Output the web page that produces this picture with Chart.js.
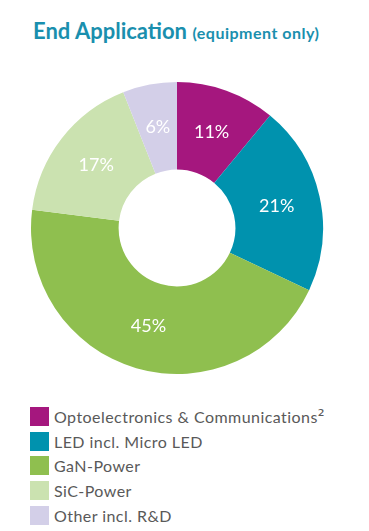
<!DOCTYPE html>
<html>
<head>
<meta charset="utf-8">
<script src="https://cdn.jsdelivr.net/npm/chart.js@4"></script>
<style>
  body { margin: 0; background: #fff; font-family: Lato, sans-serif; }
  #wrap { position: relative; width: 369px; height: 531px; }
  #title { position: absolute; left: 33px; top: 17px; color: #1a8fae; font-weight: bold; font-size: 22px; white-space: nowrap; }
  #title small { font-size: 16px; letter-spacing: 0.5px; }
  #chartBox { position: absolute; left: 27px; top: 78px; width: 300px; height: 300px; }
  #legend { position: absolute; left: 30px; top: 404px; }
  .row { display: flex; align-items: center; height: 24.7px; }
  .sw { width: 19px; height: 19px; margin-right: 5px; }
  .lbl { font-size: 16px; letter-spacing: 0.45px; color: #595959; white-space: nowrap; }
  .sup { font-family: "DejaVu Sans", sans-serif; font-size: 17px; line-height: 0; position: relative; top: -1px; }
</style>
</head>
<body>
<div id="wrap">
  <div id="title">End Application <small>(equipment only)</small></div>
  <div id="chartBox"><canvas id="pie"></canvas></div>
  <div id="legend"></div>
</div>
<script>
const categories = ['Optoelectronics & Communications²', 'LED incl. Micro LED', 'GaN-Power', 'SiC-Power', 'Other incl. R&D'];
const shares = [11, 21, 45, 17, 6];
const colors = ['#a5177e', '#0092ae', '#8fbf4f', '#cbe2b0', '#d3cfe8'];

// percentage labels inside the ring
const sliceLabels = {
  id: 'sliceLabels',
  afterDatasetsDraw(chart) {
    const ctx = chart.ctx;
    const meta = chart.getDatasetMeta(0);
    ctx.save();
    ctx.fillStyle = '#fff';
    ctx.font = '18px Lato, sans-serif';
    ctx.textAlign = 'center';
    ctx.textBaseline = 'middle';
    meta.data.forEach((arc, i) => {
      const p = arc.tooltipPosition();
      ctx.fillText(shares[i] + '%', p.x, p.y);
    });
    ctx.restore();
  }
};

new Chart(document.getElementById('pie'), {
  type: 'doughnut',
  data: {
    labels: categories,
    datasets: [{
      data: shares,
      backgroundColor: colors,
      borderWidth: 0
    }]
  },
  options: {
    responsive: true,
    maintainAspectRatio: false,
    animation: false,
    cutout: '40%',
    layout: { padding: 4 },
    plugins: {
      legend: { display: false },
      tooltip: { enabled: false }
    }
  },
  plugins: [sliceLabels]
});

// legend from the same arrays; the superscript gets a font with a fuller glyph
const legend = document.getElementById('legend');
categories.forEach((c, i) => {
  const row = document.createElement('div');
  row.className = 'row';
  row.innerHTML = `<div class="sw" style="background:${colors[i]}"></div><div class="lbl"></div>`;
  const lbl = row.querySelector('.lbl');
  if (c.endsWith('²')) {
    lbl.textContent = c.slice(0, -1);
    const sup = document.createElement('span');
    sup.className = 'sup';
    sup.textContent = '²';
    lbl.appendChild(sup);
  } else {
    lbl.textContent = c;
  }
  legend.appendChild(row);
});
</script>
</body>
</html>
